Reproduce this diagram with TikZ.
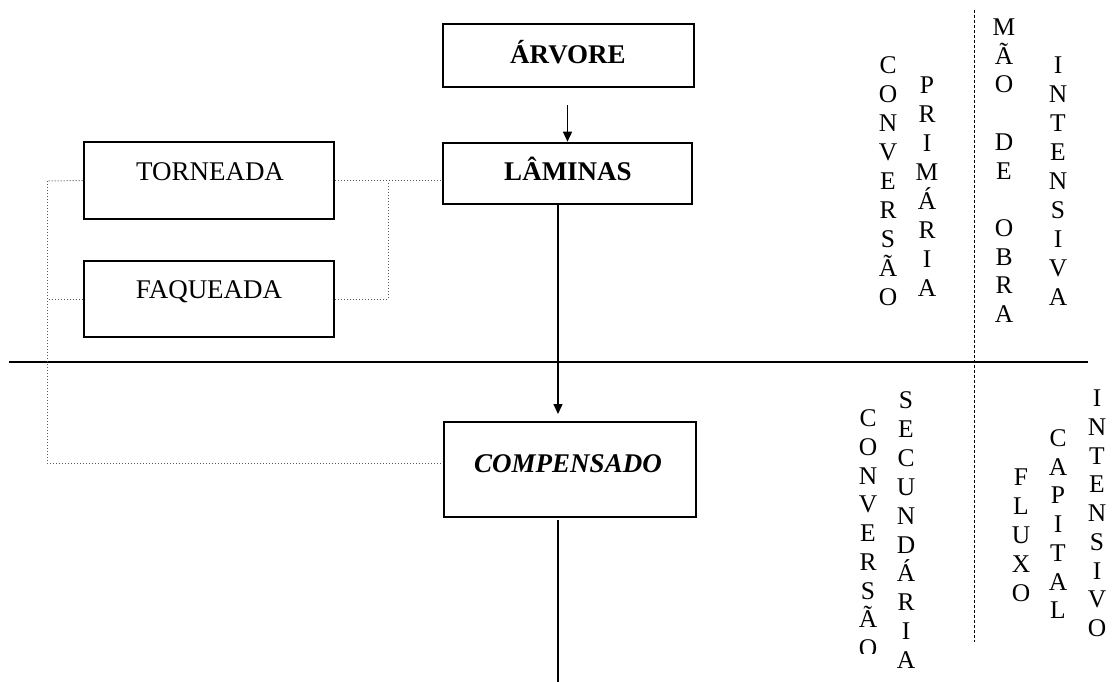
\documentclass[tikz,border=0pt]{standalone}
\usepackage{fontspec}
\setmainfont{Liberation Serif}
\usetikzlibrary{arrows.meta,calc}
\begin{document}
\begin{tikzpicture}[x=1pt,y=-1pt,
  box/.style={draw,line width=2.6pt,inner sep=0pt},
  boxtext/.style={font=\fontsize{27}{30}\selectfont,inner sep=0pt,text height=18pt,text depth=0pt},
  vletter/.style={font=\fontsize{25.5}{29}\selectfont,inner sep=0pt,text height=17pt,text depth=0pt},
  dotline/.style={draw=black!65,line width=1pt,dotted},
  flow/.style={line width=1.4pt,-{Triangle[length=10pt,width=9pt]}},
  divider/.style={line width=1pt,dashed,dash pattern=on 3pt off 2pt}]
\useasboundingbox (0,0) rectangle (1112,682);
% boxes
\node[box,minimum width=251pt,minimum height=63pt] (arv) at (568.5,55.5) {};
\node[boxtext,font=\fontsize{27}{30}\selectfont\bfseries] (arvt) at (568,55) {ÁRVORE};
\node[box,minimum width=249pt,minimum height=61pt] (lam) at (567.5,173.5) {};
\node[boxtext,font=\fontsize{27}{30}\selectfont\bfseries] (lamt) at (568,172) {LÂMINAS};
\node[box,minimum width=250pt,minimum height=77pt] (torn) at (209,180.5) {};
\node[boxtext] (tornt) at (210,172) {TORNEADA};
\node[box,minimum width=250pt,minimum height=76pt] (faq) at (209,299) {};
\node[boxtext] (faqt) at (209,289) {FAQUEADA};
\node[box,minimum width=252pt,minimum height=95pt] (comp) at (570,469.5) {};
\node[boxtext,font=\fontsize{27}{30}\selectfont\bfseries\itshape] (compt) at (568,463) {COMPENSADO};
% arrows and lines
\draw[flow] ([yshift=-17pt]arv.south -| lam.north) coordinate (a1) -- (lam.north);
\coordinate (lamx) at (558,205);
\draw[flow] (lamx) -- (558,414) coordinate (a2);
\coordinate (cbot) at (558,520);
\coordinate (pend) at (558,682);
\draw[line width=2.6pt] (cbot) -- (pend);
\coordinate (hl) at (9,362);
\coordinate (hr) at (1088,362);
\draw[line width=2.6pt] (hl) -- (hr);
% dotted connectors
\coordinate (jx) at (388,181);
\coordinate (lx) at (47,181);
\draw[dotline] (torn.east) -- (torn.east -| lam.west);
\draw[dotline] (faq.east) -| (jx);
\draw[dotline] (torn.west) -- (lx);
\draw[dotline] (faq.west) -- (faq.west -| lx);
\draw[dotline] (lx) |- ([yshift=6.5pt]comp.west);
% divider
\coordinate (dv1) at (974,10);
\coordinate (dv2) at (974,642);
\draw[divider] (dv1) -- (dv2);
% vertical texts
\foreach \l [count=\i] in {C,O,N,V,E,R,S,Ã,O}
  \node[vletter] (cp\i) at (888,{65+(\i-1)*29}) {\l};
\foreach \l [count=\i] in {P,R,I,M,Á,R,I,A}
  \node[vletter] (pr\i) at (927,{85+(\i-1)*29}) {\l};
\foreach \l [count=\i] in {M,Ã,O,{},D,E,{},O,B,R,A}
  \node[vletter] (mo\i) at (1004,{27+(\i-1)*28.7}) {\l};
\foreach \l [count=\i] in {I,N,T,E,N,S,I,V,A}
  \node[vletter] (ia\i) at (1058,{65+(\i-1)*29}) {\l};
\begin{scope}
\clip (840,380) rectangle (890,653);
\foreach \l [count=\i] in {C,O,N,V,E,R,S,Ã,O}
  \node[vletter] (cs\i) at (868,{418+(\i-1)*28.75}) {\l};
\end{scope}
\foreach \l [count=\i] in {S,E,C,U,N,D,Á,R,I,A}
  \node[vletter] (se\i) at (906,{400+(\i-1)*28.9}) {\l};
\foreach \l [count=\i] in {F,L,U,X,O}
  \node[vletter] (fl\i) at (1021,{477+(\i-1)*29}) {\l};
\begin{scope}
\clip (1040,420) rectangle (1078,617);
\foreach \l [count=\i] in {C,A,P,I,T,A,L}
  \node[vletter] (ca\i) at (1058,{438+(\i-1)*28.7}) {\l};
\end{scope}
\foreach \l [count=\i] in {I,N,T,E,N,S,I,V,O}
  \node[vletter] (io\i) at (1097,{398+(\i-1)*28.75}) {\l};
\end{tikzpicture}
\end{document}
